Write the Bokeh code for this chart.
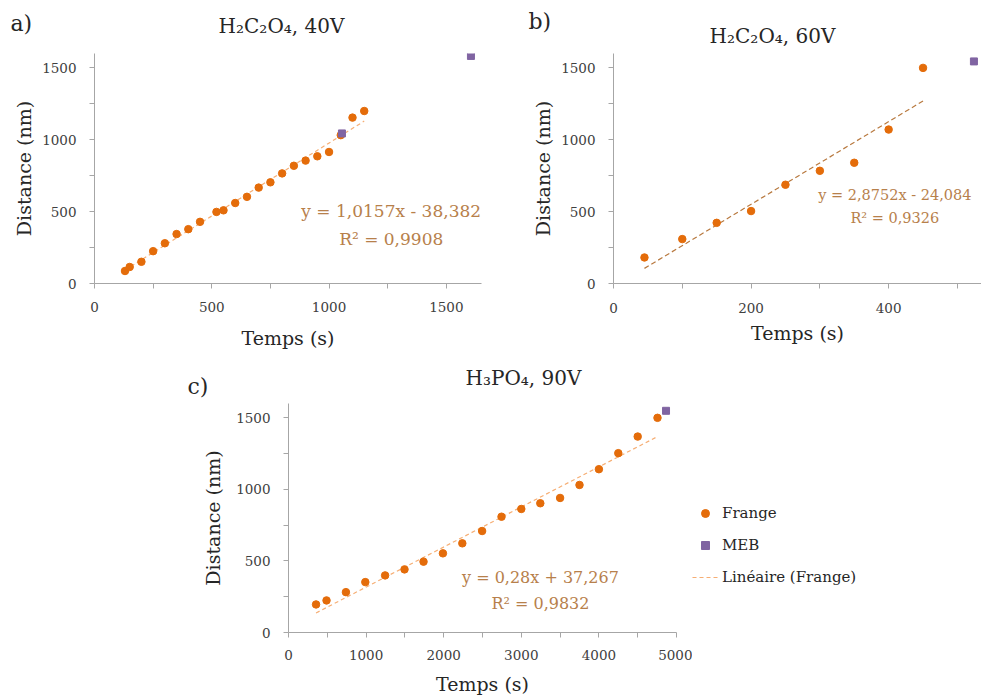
from bokeh.plotting import figure
from bokeh.models import Range1d, FixedTicker, Label, Legend, LegendItem, Spacer
from bokeh.layouts import row, column
from bokeh.embed import file_html
from bokeh.resources import INLINE

# ---------------- data ----------------
# a) H2C2O4, 40V
a_temps = [130, 150, 200, 250, 300, 350, 400, 450, 520, 550, 600, 650, 700, 750,
           800, 850, 900, 950, 1000, 1050, 1100, 1150]
a_dist = [87, 115, 151, 225, 280, 344, 378, 429, 498, 509, 560, 603, 667, 704,
          766, 819, 855, 885, 915, 1032, 1154, 1200]
a_meb_temps = [1055, 1605]
a_meb_dist = [1044, 1583]
a_slope, a_intercept = 1.0157, -38.382
a_eq = ["y = 1,0157x - 38,382", "R² = 0,9908"]

# b) H2C2O4, 60V
b_temps = [45, 100, 150, 200, 250, 300, 350, 400, 450]
b_dist = [181, 309, 422, 504, 687, 784, 840, 1071, 1500]
b_meb_temps = [524]
b_meb_dist = [1545]
b_slope, b_intercept = 2.8752, -24.084
b_eq = ["y = 2,8752x - 24,084", "R² = 0,9326"]

# c) H3PO4, 90V
c_temps = [355, 490, 740, 990, 1245, 1495, 1740, 1990, 2240, 2495, 2745, 3000,
           3245, 3500, 3750, 4000, 4250, 4500, 4755]
c_dist = [196, 224, 282, 352, 399, 441, 495, 553, 623, 709, 809, 863, 903, 940,
          1031, 1141, 1253, 1369, 1500]
c_meb_temps = [4865]
c_meb_dist = [1549]
c_slope, c_intercept = 0.28, 37.267
c_eq = ["y = 0,28x + 37,267", "R² = 0,9832"]

titles = ["H₂C₂O₄, 40V", "H₂C₂O₄, 60V", "H₃PO₄, 90V"]
letters = ["a)", "b)", "c)"]
legend_labels = ["Frange", "MEB", "Linéaire (Frange)"]

# ---------------- style ----------------
ORANGE = "#E46C0A"
PURPLE = "#8064A2"
TREND_LIGHT = "#F6AE74"
TREND_DARK = "#B8793F"
EQ_COLOR = "#B7804B"
AXIS = "#A6A6A6"
TEXT = "#262626"
FONT = "DejaVu Serif"


def make_panel(width, height, borders, xr, yr, xmaj, xmin, ymaj, ymin):
    left, right, top, bottom = borders
    p = figure(width=width, height=height, x_range=Range1d(*xr), y_range=Range1d(*yr),
               output_backend="svg", toolbar_location=None,
               min_border_left=left, min_border_right=right,
               min_border_top=top, min_border_bottom=bottom)
    p.grid.visible = False
    p.outline_line_color = None
    p.background_fill_color = "white"
    p.border_fill_color = "white"
    p.xaxis.ticker = FixedTicker(ticks=xmaj, minor_ticks=xmin)
    p.yaxis.ticker = FixedTicker(ticks=ymaj, minor_ticks=ymin)
    for ax in (p.xaxis[0], p.yaxis[0]):
        ax.axis_line_color = AXIS
        ax.major_tick_line_color = AXIS
        ax.minor_tick_line_color = AXIS
        ax.major_tick_out = 5
        ax.major_tick_in = 0
        ax.minor_tick_out = 5
        ax.minor_tick_in = 0
        ax.major_label_text_font = FONT
        ax.major_label_text_font_size = "13.5px"
        ax.major_label_text_color = "#404040"
        ax.axis_label_text_font = FONT
        ax.axis_label_text_font_size = "19px"
        ax.axis_label_text_font_style = "normal"
        ax.axis_label_text_color = TEXT
    p.xaxis.axis_label = "Temps (s)"
    p.yaxis.axis_label = "Distance (nm)"
    return p


def make_blank(width, height, flip=True):
    yr = Range1d(height, 0) if flip else Range1d(0, height)
    h = figure(width=width, height=height, x_range=Range1d(0, width), y_range=yr,
               output_backend="svg", toolbar_location=None,
               x_axis_location=None, y_axis_location=None,
               min_border_left=0, min_border_right=0, min_border_top=0, min_border_bottom=0)
    h.grid.visible = False
    h.outline_line_color = None
    h.background_fill_color = "white"
    h.border_fill_color = "white"
    return h


def header_text(h, x, y, txt, size, align):
    h.add_layout(Label(x=x, y=y, text=txt, text_align=align, text_baseline="middle",
                       text_font=FONT, text_font_size=size, text_color=TEXT))


def add_series(p, temps, dist, meb_t, meb_d, slope, intercept, trend_color, dash):
    xs = [min(temps), max(temps)]
    ys = [slope * x + intercept for x in xs]
    tr = p.line(xs, ys, line_color=trend_color, line_width=1.2, line_dash=dash)
    fr = p.scatter(temps, dist, marker="circle", size=7.5, fill_color=ORANGE, line_color=ORANGE)
    mb = p.scatter(meb_t, meb_d, marker="square", size=7, fill_color=PURPLE, line_color=PURPLE)
    return fr, mb, tr


def add_eq(p, eq, eqx, eqy, size):
    for txt, yy in zip(eq, eqy):
        p.add_layout(Label(x=eqx, y=yy, text=txt, text_align="center", text_baseline="middle",
                           text_font=FONT, text_font_size=size, text_color=EQ_COLOR))


# ---------------- headers ----------------
h1 = make_blank(981, 46)
header_text(h1, 10, 23, letters[0], "22px", "left")
header_text(h1, 281, 25, titles[0], "20px", "center")
header_text(h1, 528, 21, letters[1], "22px", "left")
header_text(h1, 772, 35, titles[1], "20px", "center")

h2 = make_blank(981, 45)
header_text(h2, 187, 31, letters[2], "22px", "left")
header_text(h2, 523, 22, titles[2], "20px", "center")

# ---------------- panel a ----------------
pa = make_panel(490, 309, (94, 9, 7, 70), (0, 1650), (0, 1600),
                [0, 500, 1000, 1500], [250, 750, 1250],
                [0, 500, 1000, 1500], [250, 750, 1250])
pa.xaxis.major_label_standoff = 13
pa.yaxis.major_label_standoff = 13
pa.xaxis.axis_label_standoff = 12
pa.yaxis.axis_label_standoff = 4
add_series(pa, a_temps, a_dist, a_meb_temps, a_meb_dist, a_slope, a_intercept, TREND_LIGHT, "4 3")
add_eq(pa, a_eq, 1265, [503, 310], "17px")

# ---------------- panel b ----------------
pb = make_panel(491, 309, (123, 0, 2, 72), (0, 535), (0, 1600),
                [0, 200, 400], [100, 300, 500],
                [0, 500, 1000, 1500], [250, 750, 1250])
pb.xaxis.major_label_standoff = 14
pb.yaxis.major_label_standoff = 13
pb.xaxis.axis_label_standoff = 6
pb.yaxis.axis_label_standoff = 4
add_series(pb, b_temps, b_dist, b_meb_temps, b_meb_dist, b_slope, b_intercept, TREND_DARK, "5 3")
add_eq(pb, b_eq, 409, [619, 456], "14.5px")

# ---------------- panel c ----------------
pc = make_panel(512, 299, (108, 16, 3, 67), (0, 5000), (0, 1600),
                [0, 1000, 2000, 3000, 4000, 5000], [500, 1500, 2500, 3500, 4500],
                [0, 500, 1000, 1500], [250, 750, 1250])
pc.xaxis.major_label_standoff = 12
pc.yaxis.major_label_standoff = 13
pc.xaxis.axis_label_standoff = 10
pc.yaxis.axis_label_standoff = 9
add_series(pc, c_temps, c_dist, c_meb_temps, c_meb_dist, c_slope, c_intercept, TREND_LIGHT, "4 3")
add_eq(pc, c_eq, 3247, [385, 203], "16px")

# ---------------- legend (own canvas to the right of panel c) ----------------
# the series of panel c are re-used here; they fall outside this canvas' range,
# so only their legend glyphs show
lf = make_blank(289, 299, flip=False)
lg_fr, lg_mb, lg_tr = add_series(lf, c_temps, c_dist, c_meb_temps, c_meb_dist,
                                 c_slope, c_intercept, TREND_LIGHT, "4 3")
legend = Legend(items=[LegendItem(label=legend_labels[0], renderers=[lg_fr]),
                       LegendItem(label=legend_labels[1], renderers=[lg_mb]),
                       LegendItem(label=legend_labels[2], renderers=[lg_tr])],
                location=(0, 45), border_line_color=None, background_fill_alpha=0,
                glyph_width=26, glyph_height=20, label_height=20, spacing=12,
                padding=0, margin=0, label_standoff=4,
                label_text_font=FONT, label_text_font_size="15px", label_text_color=TEXT)
lf.add_layout(legend)

layout = column(h1, row(pa, pb), h2, row(Spacer(width=180, height=299), pc, lf))

open("out.html", "w").write(file_html(layout, INLINE))
